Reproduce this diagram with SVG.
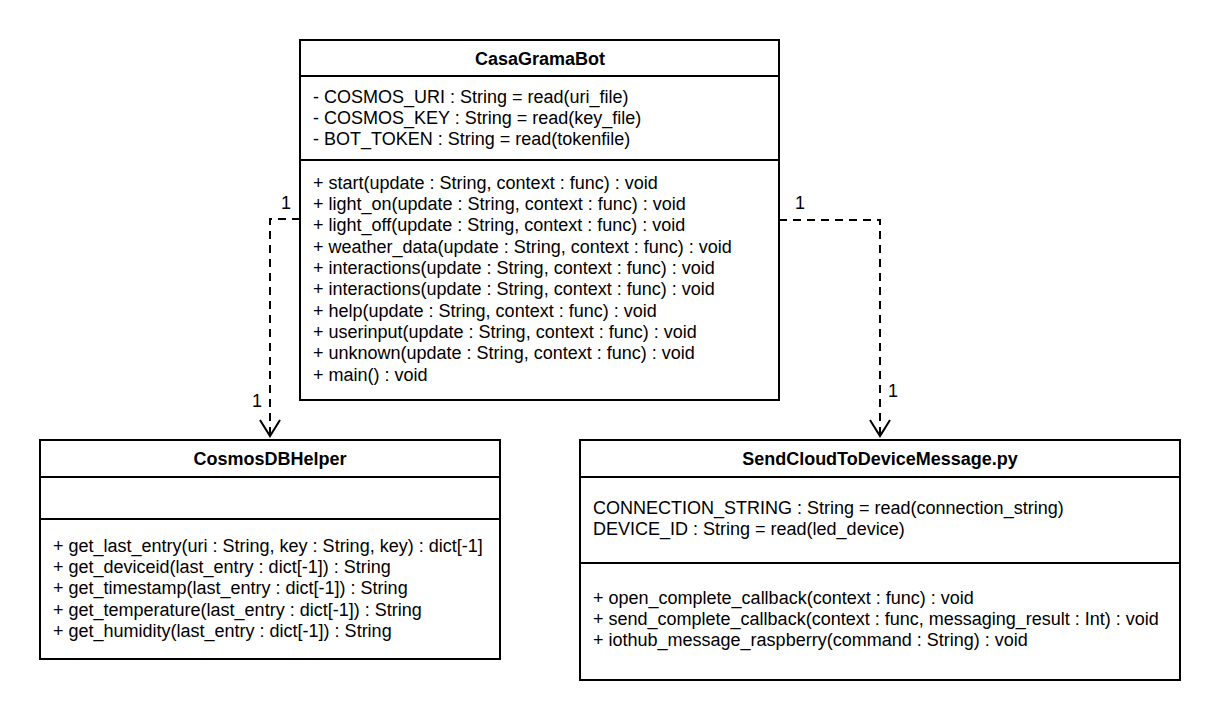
<svg xmlns="http://www.w3.org/2000/svg" width="1220" height="720" viewBox="0 0 1220 720">
<style>
.box{fill:#fff;stroke:#000;stroke-width:2}
.ln{stroke:#000;stroke-width:2}
.t{font-family:"Liberation Sans",Arial,sans-serif;font-size:18px;fill:#000}
.b{font-weight:bold;text-anchor:middle}
.c{fill:none;stroke:#000;stroke-width:2;stroke-dasharray:8 6}
.ah{fill:none;stroke:#000;stroke-width:2}
</style>
<rect width="1220" height="720" fill="#fff"/>
<g id="connectors">
<path class="c" d="M300,219 H270 V436"/>
<path class="ah" d="M260,420 L270,436 L280,420"/>
<text class="t" x="286" y="209" text-anchor="middle">1</text>
<text class="t" x="257" y="407" text-anchor="middle">1</text>
<path class="c" d="M779,220 H880 V436"/>
<path class="ah" d="M870,420 L880,436 L890,420"/>
<text class="t" x="800" y="209" text-anchor="middle">1</text>
<text class="t" x="893" y="397" text-anchor="middle">1</text>
</g>
<g id="CasaGramaBot">
<rect class="box" x="300" y="40" width="479" height="360"/>
<line class="ln" x1="300" y1="76" x2="779" y2="76"/>
<line class="ln" x1="300" y1="160" x2="779" y2="160"/>
<text class="t b" x="540" y="64.5">CasaGramaBot</text>
<text class="t" x="313" y="102.5">- COSMOS_URI : String = read(uri_file)</text>
<text class="t" x="313" y="123.8">- COSMOS_KEY : String = read(key_file)</text>
<text class="t" x="313" y="145.2">- BOT_TOKEN : String = read(tokenfile)</text>
<text class="t" x="313" y="188.5">+ start(update : String, context : func) : void</text>
<text class="t" x="313" y="209.8">+ light_on(update : String, context : func) : void</text>
<text class="t" x="313" y="231.2">+ light_off(update : String, context : func) : void</text>
<text class="t" x="313" y="252.5">+ weather_data(update : String, context : func) : void</text>
<text class="t" x="313" y="273.8">+ interactions(update : String, context : func) : void</text>
<text class="t" x="313" y="295.2">+ interactions(update : String, context : func) : void</text>
<text class="t" x="313" y="316.5">+ help(update : String, context : func) : void</text>
<text class="t" x="313" y="337.8">+ userinput(update : String, context : func) : void</text>
<text class="t" x="313" y="359.2">+ unknown(update : String, context : func) : void</text>
<text class="t" x="313" y="380.5">+ main() : void</text>
</g>
<g id="CosmosDBHelper">
<rect class="box" x="40" y="440" width="460" height="219"/>
<line class="ln" x1="40" y1="477" x2="500" y2="477"/>
<line class="ln" x1="40" y1="519" x2="500" y2="519"/>
<text class="t b" x="270" y="464.5">CosmosDBHelper</text>
<text class="t" x="53" y="551.5">+ get_last_entry(uri : String, key : String, key) : dict[-1]</text>
<text class="t" x="53" y="572.8">+ get_deviceid(last_entry : dict[-1]) : String</text>
<text class="t" x="53" y="594.2">+ get_timestamp(last_entry : dict[-1]) : String</text>
<text class="t" x="53" y="615.5">+ get_temperature(last_entry : dict[-1]) : String</text>
<text class="t" x="53" y="636.8">+ get_humidity(last_entry : dict[-1]) : String</text>
</g>
<g id="SendCloudToDeviceMessage">
<rect class="box" x="580" y="440" width="600" height="240"/>
<line class="ln" x1="580" y1="477" x2="1180" y2="477"/>
<line class="ln" x1="580" y1="563" x2="1180" y2="563"/>
<text class="t b" x="880" y="464.5">SendCloudToDeviceMessage.py</text>
<text class="t" x="593" y="513.5">CONNECTION_STRING : String = read(connection_string)</text>
<text class="t" x="593" y="534.8">DEVICE_ID : String = read(led_device)</text>
<text class="t" x="593" y="603.5">+ open_complete_callback(context : func) : void</text>
<text class="t" x="593" y="624.8">+ send_complete_callback(context : func, messaging_result : Int) : void</text>
<text class="t" x="593" y="646.2">+ iothub_message_raspberry(command : String) : void</text>
</g>
</svg>
